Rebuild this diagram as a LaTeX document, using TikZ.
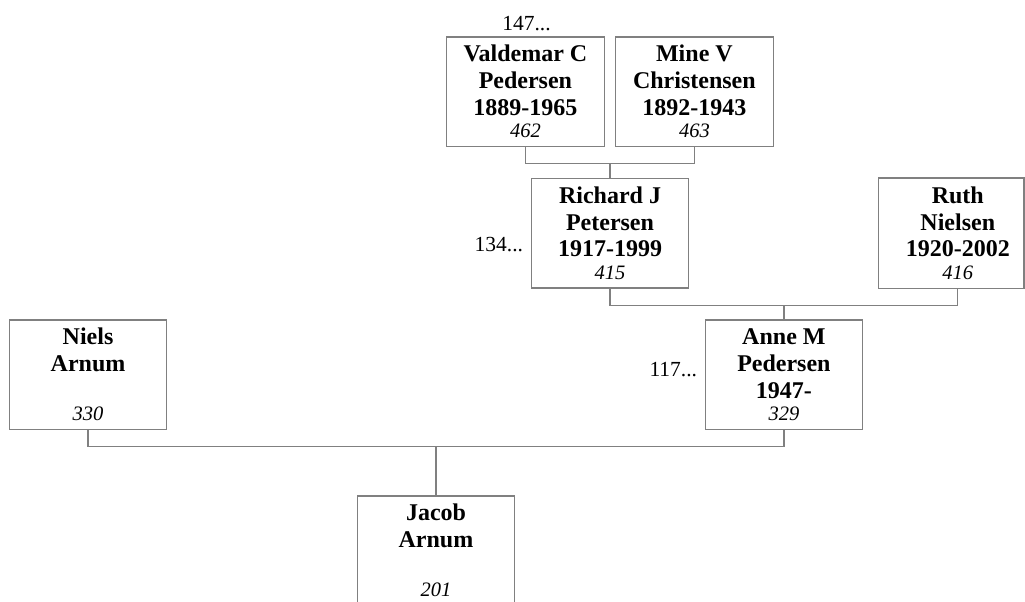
\documentclass[tikz,border=0pt]{standalone}
\usepackage{fontspec}
\setmainfont{Liberation Serif}
\newcommand{\pnum}[1]{{\mdseries\itshape\fontsize{20.5}{22}\selectfont #1}}

\begin{document}
\begin{tikzpicture}[x=1pt,y=-1pt,
    person/.style={rectangle,draw=black!50,line width=1.3pt,inner sep=0pt,
        minimum width=157.5pt,minimum height=109.3pt,align=center,
        text height=94.3pt,text depth=2pt,
        font=\fontsize{24}{26.7}\selectfont\bfseries},
    link/.style={draw=black!50,line width=1.3pt},
    more/.style={inner sep=0pt,font=\fontsize{21.5}{24}\selectfont}]
    \useasboundingbox (0,0) rectangle (1025,602);
    \clip (0,0) rectangle (1025,602);
    \coordinate (edge) at (1024,0);

    \node[person] (valdemar) at (525.4,91.65)
        {Valdemar C\\Pedersen\\1889-1965\\[-4pt]\pnum{462}};
    \node[person] (mine) at (694.4,91.65)
        {Mine V\\Christensen\\1892-1943\\[-4pt]\pnum{463}};

    \node[person] (richard) at (610,233.35)
        {Richard J\\Petersen\\1917-1999\\[-4pt]\pnum{415}};
    \node[person,draw=none] (ruth) at (957.75,233.35)
        {Ruth\\Nielsen\\1920-2002\\[-4pt]\pnum{416}};
    \draw[link] (ruth.north west) rectangle (ruth.south -| edge);

    \node[person] (niels) at (88.05,374.65)
        {Niels\\Arnum\\ \\[-4pt]\pnum{330}};
    \node[person] (anne) at (783.9,374.65)
        {Anne M\\Pedersen\\1947-\\[-4pt]\pnum{329}};

    \node[person] (jacob) at (436,550.65)
        {Jacob\\Arnum\\ \\[-4pt]\pnum{201}};

    \draw[link] (valdemar.south) -- ++(0,16.5) coordinate (barA) -| (mine.south);
    \draw[link] (richard.north) -- (richard.north |- barA);
    \draw[link] (richard.south) -- ++(0,16.5) coordinate (barB) -| (ruth.south);
    \draw[link] (anne.north) -- (anne.north |- barB);
    \draw[link] (niels.south) -- ++(0,16.5) coordinate (barC) -| (anne.south);
    \draw[link] (jacob.north) -- (jacob.north |- barC);

    \node[more,anchor=base] (tagA) at (526.5,30.7) {147...};
    \node[more,anchor=base east] (tagB) at (523.3,251.5) {134...};
    \node[more,anchor=base east] (tagC) at (697.3,376.7) {117...};
\end{tikzpicture}
\end{document}
